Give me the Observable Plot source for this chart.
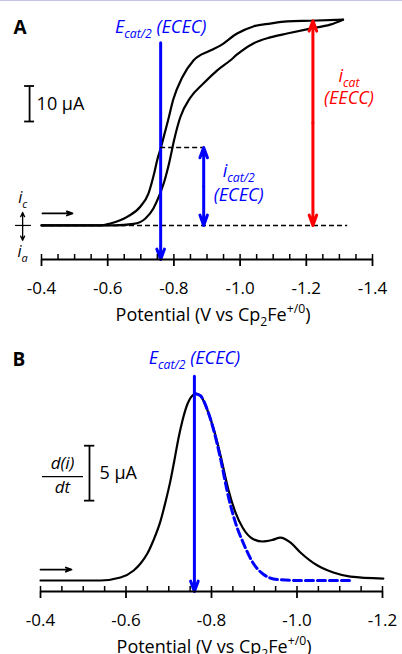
<!DOCTYPE html>
<html>
<head>
<meta charset="utf-8">
<script src="https://cdn.jsdelivr.net/npm/d3@7"></script>
<script src="https://cdn.jsdelivr.net/npm/@observablehq/plot@0.6"></script>
<style>
  html, body { margin: 0; padding: 0; }
  body {
    width: 402px; height: 654px; overflow: hidden;
    background: linear-gradient(#c4c4ea 0 1px, #ffffff 1px);
  }
  #chart svg { display: block; }
</style>
</head>
<body>
<div id="chart"></div>
<script>
// ---- Panel A: cyclic voltammogram (potential in V vs Cp2Fe+/0, current in µA) ----
const potentialTicksA = [-0.4, -0.6, -0.8, -1.0, -1.2, -1.4];

// lower branch, from -0.4 V out to the switching potential
const cvLowerE = [-0.400, -0.620, -0.678, -0.714, -0.738, -0.756, -0.771, -0.786, -0.801, -0.819,
                  -0.850, -0.889, -0.931, -0.970, -0.991, -1.040, -1.091, -1.142, -1.212, -1.272, -1.311];
const cvLowerI = [0, 0, 0.42, 1.97, 4.79, 8.45, 12.39, 17.75, 24.23, 30.42,
                  36.06, 40.0, 43.7, 46.5, 48.2, 51.3, 53.0, 54.1, 55.5, 56.6, 58.0];

// upper branch, from -0.4 V out to the switching potential
const cvUpperE = [-0.400, -0.578, -0.608, -0.660, -0.699, -0.723, -0.741, -0.750, -0.761, -0.771,
                  -0.783, -0.798, -0.825, -0.859, -0.910, -0.940, -0.991, -1.040, -1.091, -1.142,
                  -1.212, -1.311];
const cvUpperI = [0, 0, 0.56, 2.5, 5.35, 8.99, 14.93, 18.59, 22.0, 25.6,
                  29.86, 35.49, 41.69, 46.5, 49.3, 50.7, 54.1, 56.1, 56.9, 57.5,
                  57.7, 58.0];

const eCatHalf = -0.76;       // E_cat/2 (ECEC), V
const iCatHalfECEC = 22;      // i_cat/2 (ECEC), µA
const eCatEECC = -1.22;       // where i_cat (EECC) is read, V
const iCatEECC = 57.7;        // i_cat (EECC), µA
const scaleBarA = 10;         // µA

// ---- Panel B: first derivative of the voltammogram ----
const potentialTicksB = [-0.4, -0.6, -0.8, -1.0, -1.2];

const derivE = [-0.400, -0.540, -0.587, -0.618, -0.634, -0.650, -0.664, -0.681, -0.692, -0.704,
                -0.713, -0.723, -0.732, -0.744, -0.753, -0.763, -0.774, -0.791, -0.805, -0.821,
                -0.840, -0.856, -0.873, -0.896, -0.919, -0.943, -0.961, -0.985, -1.008, -1.048,
                -1.085, -1.125, -1.202];
const derivI = [0, 0, 0.27, 0.91, 1.55, 2.45, 3.64, 5.45, 7.09, 9.09,
                10.9, 13.0, 14.55, 16.09, 16.73, 17.0, 16.82, 15.45, 13.8, 11.4,
                8.2, 6.2, 4.8, 3.8, 3.55, 3.7, 3.9, 3.45, 2.55, 1.36,
                0.73, 0.36, 0.18];

// single-wave (ECEC) fit to the main peak
const fitE = [-0.763, -0.774, -0.791, -0.805, -0.821, -0.840, -0.856, -0.875, -0.898, -0.922, -0.954, -1.008, -1.130];
const fitI = [17.0, 16.82, 15.45, 13.7, 11.1, 7.55, 5.27, 3.36, 1.55, 0.55, 0.09, 0, 0];

const scaleBarB = 5;          // µA

// ---- drawing ----
const font = "'Open Sans', sans-serif";
const blue = "#0000ff";
const red = "#ff0000";

const series = (E, I) => E.map((e, k) => ({E: e, I: I[k]}));
const minorTicks = (from, to) => d3.range(0, Math.round((from - to) / 0.05) + 1).map(k => from - 0.05 * k);

// axis line, short upward ticks every 0.05 V, labelled major ticks every 0.2 V
function potentialAxis(ticks, yDomain, upUnits) {
  const lo = ticks[0], hi = ticks[ticks.length - 1];
  return [
    Plot.ruleY([yDomain[0]], {x1: lo, x2: hi, strokeWidth: 1.8}),
    Plot.ruleX(minorTicks(lo, hi), {x: d => d, y1: yDomain[0], y2: yDomain[0] + upUnits, strokeWidth: 1.5}),
    Plot.axisX(ticks, {tickSize: 7, tickPadding: 15, strokeWidth: 1.8, fontSize: 17,
                       tickFormat: d => d.toFixed(1), label: null})
  ];
}

// arrow with a head at each end
function doubleArrow(x, y1, y2, options) {
  const mid = (y1 + y2) / 2;
  return [
    Plot.arrow([0], {x1: x, x2: x, y1: mid, y2: y1, ...options}),
    Plot.arrow([0], {x1: x, x2: x, y1: mid, y2: y2, ...options})
  ];
}

const title = "Potential (V vs Cp_{2}Fe^{+/0})";

// Panel A
const heightA = 330, mTopA = 5, mBottomA = 71;
const yDomainA = [-9.6, 62];
const pxPerUnitA = (heightA - mTopA - mBottomA) / (yDomainA[1] - yDomainA[0]);
const ecatTopA = 51.5;
const scaleBarA0 = 29.3;

const plotA = Plot.plot({
  width: 402, height: heightA,
  marginLeft: 41, marginRight: 30, marginTop: mTopA, marginBottom: mBottomA,
  x: {domain: [-0.4, -1.4], label: null},
  y: {domain: yDomainA, axis: null, label: null},
  style: {fontFamily: font, fontSize: "17px", color: "black", background: "transparent"},
  marks: [
    Plot.ruleY([0], {x1: -0.4, x2: -1.325, strokeDasharray: "5,3", strokeWidth: 1.5}),
    Plot.line(series(cvLowerE, cvLowerI), {x: "E", y: "I", curve: "monotone-x", strokeWidth: 2.2}),
    Plot.line(series(cvUpperE, cvUpperI), {x: "E", y: "I", curve: "monotone-x", strokeWidth: 2.2}),

    // E_cat/2 marker
    Plot.arrow([0], {x1: eCatHalf, x2: eCatHalf, y1: ecatTopA, y2: yDomainA[0], stroke: blue,
                     strokeWidth: 3, headLength: 5.5, headAngle: 40}),
    Plot.text(["E_{cat/2} (ECEC)"], {x: eCatHalf, y: ecatTopA, dy: -10, lineAnchor: "bottom",
                                     fill: blue, fontStyle: "italic", fontSize: 18}),

    // i_cat/2 (ECEC)
    Plot.ruleY([iCatHalfECEC], {x1: eCatHalf, x2: -0.895, strokeDasharray: "5,3", strokeWidth: 1.5}),
    ...doubleArrow(-0.89, 0, iCatHalfECEC, {stroke: blue, strokeWidth: 3, headLength: 5.5, headAngle: 40}),
    Plot.text(["i_{cat/2}"], {x: -0.89, y: iCatHalfECEC / 2, dx: 35, dy: -9, lineAnchor: "bottom",
                              fill: blue, fontStyle: "italic", fontSize: 18}),
    Plot.text(["(ECEC)"], {x: -0.89, y: iCatHalfECEC / 2, dx: 35, dy: 15, lineAnchor: "bottom",
                           fill: blue, fontStyle: "italic", fontSize: 18}),

    // i_cat (EECC)
    ...doubleArrow(eCatEECC, 0, iCatEECC, {stroke: red, strokeWidth: 3, headLength: 5.5, headAngle: 40}),
    Plot.text(["i_{cat}"], {x: eCatEECC, y: iCatEECC / 2, dx: 36, dy: -41.5, lineAnchor: "bottom",
                            fill: red, fontStyle: "italic", fontSize: 18}),
    Plot.text(["(EECC)"], {x: eCatEECC, y: iCatEECC / 2, dx: 36, dy: -18.6, lineAnchor: "bottom",
                           fill: red, fontStyle: "italic", fontSize: 18}),

    // current scale bar
    Plot.ruleX([0], {x: -0.364, y1: scaleBarA0, y2: scaleBarA0 + scaleBarA, strokeWidth: 1.8}),
    Plot.ruleY([scaleBarA0, scaleBarA0 + scaleBarA], {x1: -0.349, x2: -0.379, strokeWidth: 1.8}),
    Plot.text([`${scaleBarA} μA`], {x: -0.364, y: scaleBarA0 + scaleBarA / 2, dx: 7, textAnchor: "start",
                                     lineAnchor: "middle", fontSize: 18}),

    // cathodic / anodic current convention
    Plot.ruleY([0], {x1: -0.3216, x2: -0.3698, strokeWidth: 1.2}),
    ...doubleArrow(-0.343, -4.2, 3.66, {strokeWidth: 1.3, headLength: 5.5, headAngle: 50}),
    Plot.text(["i_{c}"], {x: -0.343, y: 6.2, lineAnchor: "bottom", fontStyle: "italic", fontSize: 16}),
    Plot.text(["i_{a}"], {x: -0.343, y: -9.0, lineAnchor: "bottom", fontStyle: "italic", fontSize: 16}),

    // scan direction
    Plot.arrow([0], {x1: -0.403, x2: -0.4935, y1: 3.38, y2: 3.38, strokeWidth: 1.8, headLength: 5, headAngle: 40}),

    Plot.text(["A"], {frameAnchor: "top-left", dx: -28, dy: 28, textAnchor: "start", lineAnchor: "bottom",
                      fontWeight: "bold", fontSize: 19}),

    ...potentialAxis(potentialTicksA, yDomainA, 5 / pxPerUnitA),
    Plot.text([title], {frameAnchor: "bottom", dx: 6, dy: 61, lineAnchor: "bottom", fontSize: 18})
  ]
});

// Panel B
const heightB = 324, mTopB = 5, mBottomB = 63;
const yDomainB = [-1, 22.3];
const pxPerUnitB = (heightB - mTopB - mBottomB) / (yDomainB[1] - yDomainB[0]);
const ecatTopB = 18.6;
const scaleBarB0 = 7.27;

const plotB = Plot.plot({
  width: 402, height: heightB,
  marginLeft: 40, marginRight: 20, marginTop: mTopB, marginBottom: mBottomB,
  x: {domain: [-0.4, -1.2], label: null},
  y: {domain: yDomainB, axis: null, label: null},
  style: {fontFamily: font, fontSize: "17px", color: "black", background: "transparent"},
  marks: [
    Plot.line(series(derivE, derivI), {x: "E", y: "I", curve: "monotone-x", strokeWidth: 2.2}),
    Plot.line(series(fitE, fitI), {x: "E", y: "I", curve: "monotone-x", stroke: blue, strokeWidth: 3,
                                   strokeDasharray: "8,4"}),

    Plot.arrow([0], {x1: eCatHalf, x2: eCatHalf, y1: ecatTopB, y2: yDomainB[0], stroke: blue,
                     strokeWidth: 3, headLength: 5.5, headAngle: 40}),
    Plot.text(["E_{cat/2} (ECEC)"], {x: eCatHalf, y: ecatTopB, dy: -12, lineAnchor: "bottom",
                                     fill: blue, fontStyle: "italic", fontSize: 18}),

    // d(i)/dt scale bar
    Plot.ruleX([0], {x: -0.5146, y1: scaleBarB0, y2: scaleBarB0 + scaleBarB, strokeWidth: 1.8}),
    Plot.ruleY([scaleBarB0, scaleBarB0 + scaleBarB], {x1: -0.503, x2: -0.527, strokeWidth: 1.8}),
    Plot.text([`${scaleBarB} μA`], {x: -0.5146, y: scaleBarB0 + scaleBarB / 2, dx: 10, textAnchor: "start",
                                     lineAnchor: "middle", fontSize: 18}),
    Plot.text(["d(i)"], {x: -0.4515, y: 10.18, lineAnchor: "bottom", fontStyle: "italic", fontSize: 17}),
    Plot.ruleY([9.45], {x1: -0.4047, x2: -0.5006, strokeWidth: 1.3}),
    Plot.text(["dt"], {x: -0.4515, y: 8.0, lineAnchor: "bottom", fontStyle: "italic", fontSize: 17}),

    // scan direction
    Plot.arrow([0], {x1: -0.4, x2: -0.4725, y1: 1.0, y2: 1.0, strokeWidth: 1.8, headLength: 5, headAngle: 40}),

    Plot.text(["B"], {frameAnchor: "top-left", dx: -28, dy: 30, textAnchor: "start", lineAnchor: "bottom",
                      fontWeight: "bold", fontSize: 19}),

    ...potentialAxis(potentialTicksB, yDomainB, 5 / pxPerUnitB),
    Plot.text([title], {frameAnchor: "bottom", dx: 2.5, dy: 61, lineAnchor: "bottom", fontSize: 18})
  ]
});

const chart = document.getElementById("chart");
chart.append(plotA, plotB);

// Turn _{...} and ^{...} in text labels into subscript / superscript tspans
function applyRichText(svg) {
  d3.select(svg).selectAll("text").each(function () {
    const src = this.textContent;
    if (!/[_^]\{/.test(src)) return;
    const fs = parseFloat(getComputedStyle(this).fontSize);
    const sel = d3.select(this).text(null);
    let shift = 0;
    const push = (txt, target, size) => {
      const t = sel.append("tspan").text(txt);
      if (target !== shift) { t.attr("dy", target - shift); shift = target; }
      if (size) t.attr("font-size", size);
    };
    const re = /([_^])\{([^}]*)\}/g;
    let m, last = 0;
    while ((m = re.exec(src))) {
      if (m.index > last) push(src.slice(last, m.index), 0);
      push(m[2], m[1] === "_" ? 0.28 * fs : -0.42 * fs, 0.68 * fs);
      last = re.lastIndex;
    }
    if (last < src.length) push(src.slice(last), 0);
  });
}
applyRichText(plotA);
applyRichText(plotB);
</script>
</body>
</html>
